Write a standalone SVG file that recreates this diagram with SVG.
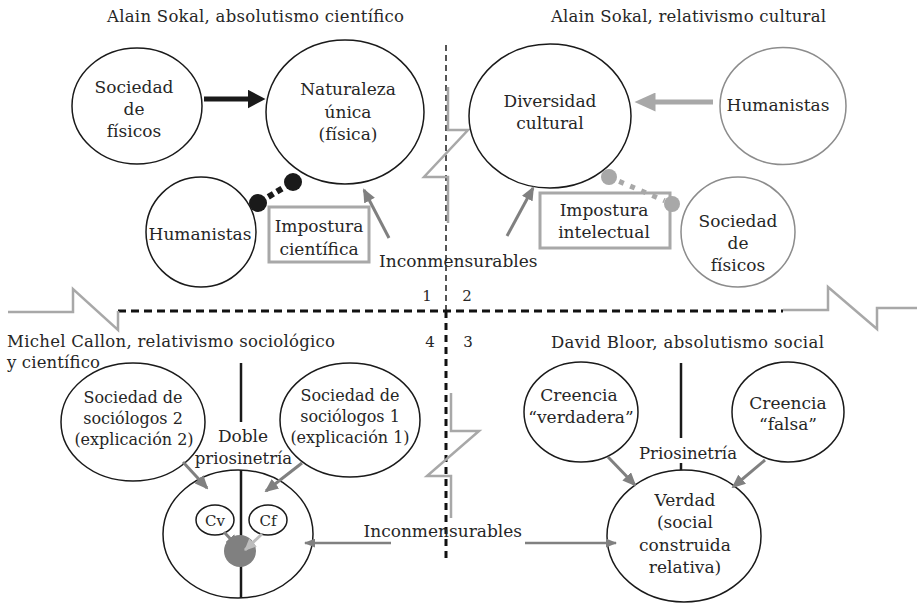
<svg xmlns="http://www.w3.org/2000/svg" width="917" height="603" viewBox="0 0 917 603">
<defs>
<style>
text{font-family:"DejaVu Serif","Liberation Serif",serif;fill:#262626;text-anchor:middle;font-size:17px}
.hd{font-size:16.5px;text-anchor:start}
.s16{font-size:16px}
.s15{font-size:15px}
.nb{fill:#fff;stroke:#1a1a1a;stroke-width:1.5}
.ng{fill:#fff;stroke:#8c8c8c;stroke-width:1.5}
.box{fill:#fff;stroke:#a8a8a8;stroke-width:3}
.ga{stroke:#808080;stroke-width:3;fill:none}
.gs{stroke:#808080;stroke-width:2.5;fill:none}
.bolt{fill:none;stroke:#a8a8a8;stroke-width:2.5}
.pl{stroke:#1a1a1a;stroke-width:2.5}
</style>
<marker id="ahG" markerUnits="userSpaceOnUse" markerWidth="14" markerHeight="12" refX="12" refY="6" orient="auto"><path d="M0,0 L14,6 L0,12 z" fill="#808080"/></marker>
<marker id="ahGs" markerUnits="userSpaceOnUse" markerWidth="11" markerHeight="9" refX="10" refY="4.5" orient="auto"><path d="M0,0 L11,4.5 L0,9 z" fill="#808080"/></marker>
<marker id="ahB" markerUnits="userSpaceOnUse" markerWidth="19" markerHeight="19" refX="0.5" refY="9.5" orient="auto"><path d="M0,0 L18,9.5 L0,19 z" fill="#1a1a1a"/></marker>
<marker id="ahL" markerUnits="userSpaceOnUse" markerWidth="22" markerHeight="19" refX="0.5" refY="9.5" orient="auto"><path d="M0,0 L21,9.5 L0,19 z" fill="#a8a8a8"/></marker>
<marker id="ahLs" markerUnits="userSpaceOnUse" markerWidth="12" markerHeight="11" refX="11" refY="5.5" orient="auto"><path d="M0,0 L12,5.5 L0,11 z" fill="#bdbdbd"/></marker>
</defs>
<rect width="917" height="603" fill="#fff"/>

<g id="dividers">
<line x1="446" y1="45" x2="446" y2="311" stroke="#555" stroke-width="2" stroke-dasharray="6 4"/>
<line x1="446" y1="311" x2="446" y2="560" stroke="#111" stroke-width="3" stroke-dasharray="7 5"/>
<line x1="118" y1="311" x2="783" y2="311" stroke="#111" stroke-width="3" stroke-dasharray="8 5"/>
<polyline class="bolt" points="448,87 448,130 468,130 424,177 448,177 448,223"/>
<polyline class="bolt" points="8,312 73,312 73,289 118,330 118,311"/>
<polyline class="bolt" points="783,310 828,310 828,287 877,329 877,308 917,308"/>
<polyline class="bolt" points="451,393 451,431 479,431 427,476 451,476 451,518"/>
</g>

<g id="labels">
<text class="hd" x="107" y="21.5" textLength="297">Alain Sokal, absolutismo científico</text>
<text class="hd" x="551" y="21.5" textLength="275">Alain Sokal, relativismo cultural</text>
<text class="hd" x="7" y="347" textLength="328">Michel Callon, relativismo sociológico</text>
<text class="hd" x="7" y="368" textLength="93">y científico</text>
<text class="hd" x="551" y="348" textLength="273">David Bloor, absolutismo social</text>
<text class="s15" x="427" y="301">1</text>
<text class="s15" x="467" y="301">2</text>
<text class="s15" x="430" y="347">4</text>
<text class="s15" x="468" y="347">3</text>
<text x="379" y="267" style="text-anchor:start">Inconmensurables</text>
<text x="363.5" y="537" style="text-anchor:start">Inconmensurables</text>
<text x="243" y="442">Doble</text>
<text x="243.5" y="464" style="font-size:16.5px">priosinetría</text>
<text x="688" y="459" style="font-size:16.5px">Priosinetría</text>
</g>

<g id="nodes">
<g id="n-sociedad-fisicos-1">
<ellipse class="nb" cx="137" cy="106" rx="65" ry="58"/>
<text x="134" y="93">Sociedad</text><text x="134" y="115">de</text><text x="134" y="137">físicos</text>
</g>
<g id="n-naturaleza">
<ellipse class="nb" cx="345" cy="112" rx="79" ry="72"/>
<text x="348" y="95">Naturaleza</text><text x="348" y="118">única</text><text x="348" y="140">(física)</text>
</g>
<g id="n-humanistas-1">
<circle class="nb" cx="201" cy="232" r="55"/>
<text x="200" y="240">Humanistas</text>
</g>
<g id="n-impostura-cientifica">
<rect class="box" x="269" y="207" width="100" height="55"/>
<text x="319" y="232">Impostura</text><text x="319" y="255">científica</text>
</g>
<g id="n-diversidad">
<ellipse class="nb" cx="550" cy="116" rx="81" ry="72"/>
<text x="550" y="106.5">Diversidad</text><text x="550" y="129">cultural</text>
</g>
<g id="n-humanistas-2">
<ellipse class="ng" cx="783" cy="106" rx="63" ry="58.5"/>
<text x="778" y="110.5">Humanistas</text>
</g>
<g id="n-sociedad-fisicos-2">
<ellipse class="ng" cx="738" cy="232" rx="57" ry="55"/>
<text x="738" y="227">Sociedad</text><text x="738" y="249">de</text><text x="738" y="271">físicos</text>
</g>
<g id="n-impostura-intelectual">
<rect class="box" x="540" y="193" width="130" height="55"/>
<text x="604" y="216">Impostura</text><text x="604" y="238">intelectual</text>
</g>
<g id="n-sociologos-2">
<ellipse class="nb" cx="133" cy="422" rx="72" ry="59"/>
<text class="s16" x="133" y="403">Sociedad de</text><text class="s16" x="133" y="424">sociólogos 2</text><text class="s16" x="134" y="445">(explicación 2)</text>
</g>
<g id="n-sociologos-1">
<ellipse class="nb" cx="350" cy="420" rx="70" ry="57"/>
<text class="s16" x="350" y="401">Sociedad de</text><text class="s16" x="350" y="422">sociólogos 1</text><text class="s16" x="350" y="443">(explicación 1)</text>
</g>
<g id="n-callon">
<ellipse class="nb" cx="238" cy="534" rx="75" ry="64"/>
</g>
<g id="n-creencia-verdadera">
<ellipse class="nb" cx="581" cy="412" rx="57" ry="50"/>
<text x="579" y="400.5">Creencia</text><text x="581" y="422.5">“verdadera”</text>
</g>
<g id="n-creencia-falsa">
<ellipse class="nb" cx="788" cy="412" rx="56" ry="50"/>
<text x="788" y="409">Creencia</text><text x="788" y="430">“falsa”</text>
</g>
<g id="n-verdad">
<ellipse class="nb" cx="684" cy="536" rx="77" ry="66"/>
<text x="685" y="505.5">Verdad</text><text x="685" y="528">(social</text><text x="685" y="551">construida</text><text x="685" y="573">relativa)</text>
</g>
</g>

<g id="priosinetria-lines">
<line class="pl" x1="241" y1="363" x2="241" y2="422"/>
<line class="pl" x1="241" y1="470" x2="241" y2="598"/>
<line class="pl" x1="681" y1="363" x2="681" y2="438"/>
<line class="pl" x1="681" y1="463" x2="681" y2="470"/>
</g>

<g id="n-cv">
<ellipse class="nb" cx="215" cy="520" rx="19" ry="15"/>
<text class="s15" x="215" y="526">Cv</text>
</g>
<g id="n-cf">
<ellipse class="nb" cx="268" cy="520" rx="19" ry="15"/>
<text class="s15" x="268" y="526">Cf</text>
</g>

<g id="connectors">
<line x1="204" y1="99" x2="248" y2="99" stroke="#1a1a1a" stroke-width="5" marker-end="url(#ahB)"/>
<line x1="713" y1="102" x2="655" y2="102" stroke="#a8a8a8" stroke-width="5" marker-end="url(#ahL)"/>
<circle cx="258" cy="203" r="9" fill="#1a1a1a"/>
<circle cx="293" cy="182" r="9" fill="#1a1a1a"/>
<line x1="265.7" y1="198.4" x2="285.3" y2="186.6" stroke="#1a1a1a" stroke-width="6" stroke-dasharray="0 3 6 4 6 20"/>
<circle cx="609" cy="177" r="8" fill="#a8a8a8"/>
<circle cx="672" cy="204" r="8" fill="#a8a8a8"/>
<line x1="616.4" y1="180.2" x2="664.6" y2="200.8" stroke="#a8a8a8" stroke-width="5" stroke-dasharray="5 7" stroke-dashoffset="-3"/>
<line class="ga" x1="389" y1="238" x2="364" y2="190" marker-end="url(#ahG)"/>
<line class="ga" x1="507" y1="236" x2="533" y2="188" marker-end="url(#ahG)"/>
<line class="ga" x1="183" y1="462" x2="207" y2="488" marker-end="url(#ahG)"/>
<line class="ga" x1="302" y1="463" x2="266" y2="491" marker-end="url(#ahG)"/>
<line class="ga" x1="608" y1="457" x2="635" y2="485" marker-end="url(#ahG)"/>
<line class="ga" x1="765" y1="460" x2="733" y2="487" marker-end="url(#ahG)"/>
<line class="gs" x1="391" y1="543" x2="305" y2="543" marker-end="url(#ahGs)"/>
<line class="gs" x1="525" y1="543" x2="616" y2="543" marker-end="url(#ahGs)"/>
<circle cx="240" cy="551" r="16" fill="#808080"/>
<line class="ga" x1="224" y1="532" x2="238" y2="547" marker-end="url(#ahG)"/>
<line x1="262" y1="534" x2="245" y2="550" stroke="#bdbdbd" stroke-width="3" marker-end="url(#ahLs)"/>
</g>
</svg>
